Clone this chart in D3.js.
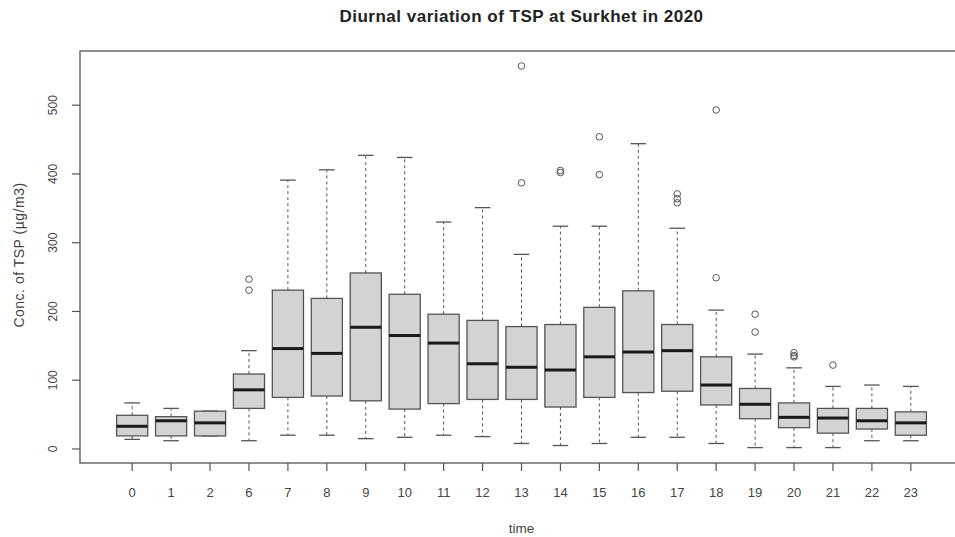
<!DOCTYPE html>
<html><head><meta charset="utf-8">
<script src="https://cdn.jsdelivr.net/npm/d3@7"></script>
<style>body{margin:0;background:#fff;overflow:hidden}svg{display:block}</style>
</head><body><svg id="c" width="955" height="537"></svg>
<script>
const hours = ["0","1","2","6","7","8","9","10","11","12","13","14","15","16","17","18","19","20","21","22","23"];
const lowerWhisker = [14,12,19,12,20,20,15,17,20,18,8,5,8,17,17,8,2,2,2,12,12];
const q1 = [19,19,19,59,75,77,70,58,66,72,72,61,75,82,84,64,44,31,23,29,20];
const medians = [33,41,38,86,146,139,177,165,154,124,119,115,134,141,143,93,65,46,45,41,38];
const q3 = [49,47,55,109,231,219,256,225,196,187,178,181,206,230,181,134,88,67,59,59,54];
const upperWhisker = [67,59,55,143,391,406,427,424,330,351,283,324,324,444,321,202,138,118,91,93,91];
const outliers = [[],[],[],[247,231],[],[],[],[],[],[],[557,387],[405,402],[454,399],[],[371,364,358],[493,249],[196,170],[140,136,134],[122],[],[]];
const yTicks = [0,100,200,300,400,500];

(function(){
const svg = d3.select("#c");
const pL = 80, pR = 963, pT = 51, pB = 463;
const n = hours.length;
const xs = d3.scaleLinear().domain([-0.5 - 0.04 * n, n - 0.5 + 0.04 * n]).range([pL, pR]);
const cx = i => xs(i);
const unit = xs(1) - xs(0);
const y = d3.scaleLinear().domain([-20.4, 578.8]).range([pB, pT]);
const bw = 0.8 * unit, cap = 0.4 * unit;
const stroke = "#555", font = "Liberation Sans, Arial, sans-serif";

const g = svg.append("g");
hours.forEach((h, i) => {
  const c = cx(i);
  const gg = g.append("g");
  [[q3[i], upperWhisker[i]], [q1[i], lowerWhisker[i]]].forEach(([a, b]) => {
    gg.append("line").attr("x1", c).attr("x2", c).attr("y1", y(a)).attr("y2", y(b))
      .attr("stroke", stroke).attr("stroke-width", 1).attr("stroke-dasharray", "3,3");
    gg.append("line").attr("x1", c - cap / 2).attr("x2", c + cap / 2).attr("y1", y(b)).attr("y2", y(b))
      .attr("stroke", stroke).attr("stroke-width", 1.3);
  });
  gg.append("rect").attr("x", c - bw / 2).attr("width", bw)
    .attr("y", y(q3[i])).attr("height", y(q1[i]) - y(q3[i]))
    .attr("fill", "#d3d3d3").attr("stroke", stroke).attr("stroke-width", 1.3);
  gg.append("line").attr("x1", c - bw / 2).attr("x2", c + bw / 2).attr("y1", y(medians[i])).attr("y2", y(medians[i]))
    .attr("stroke", "#1a1a1a").attr("stroke-width", 3);
  outliers[i].forEach(v => {
    gg.append("circle").attr("cx", c).attr("cy", y(v)).attr("r", 3.3)
      .attr("fill", "none").attr("stroke", stroke).attr("stroke-width", 1);
  });
});

svg.append("rect").attr("x", pL).attr("y", pT).attr("width", pR - pL).attr("height", pB - pT)
  .attr("fill", "none").attr("stroke", "#555").attr("stroke-width", 1.3);

const ya = svg.append("g");
yTicks.forEach(t => {
  ya.append("line").attr("x1", pL - 8).attr("x2", pL).attr("y1", y(t)).attr("y2", y(t))
    .attr("stroke", "#555").attr("stroke-width", 1.2);
  ya.append("text").attr("transform", `translate(${pL - 27.5},${y(t)}) rotate(-90)`)
    .attr("text-anchor", "middle").attr("dy", "0.35em")
    .attr("font-family", font).attr("font-size", 12).attr("fill", "#444").text(t);
});
hours.forEach((h, i) => {
  const c = cx(i);
  svg.append("line").attr("x1", c).attr("x2", c).attr("y1", pB).attr("y2", pB + 8)
    .attr("stroke", "#555").attr("stroke-width", 1.2);
  svg.append("text").attr("x", c).attr("y", 497).attr("text-anchor", "middle")
    .attr("font-family", font).attr("font-size", 13).attr("fill", "#444").text(h);
});

svg.append("text").attr("x", (pL + pR) / 2).attr("y", 533).attr("text-anchor", "middle")
  .attr("font-family", font).attr("font-size", 13.5).attr("fill", "#444").text("time");
svg.append("text").attr("transform", `translate(24,255) rotate(-90)`)
  .attr("text-anchor", "middle").attr("font-family", font).attr("font-size", 14)
  .attr("letter-spacing", 0.5).attr("fill", "#444")
  .text("Conc. of TSP (µg/m3)");
svg.append("text").attr("x", (pL + pR) / 2).attr("y", 21.5).attr("text-anchor", "middle")
  .attr("font-family", font).attr("font-size", 17).attr("letter-spacing", 0.5)
  .attr("font-weight", "bold").attr("fill", "#222")
  .text("Diurnal variation of TSP at Surkhet in 2020");
})();
</script></body></html>
